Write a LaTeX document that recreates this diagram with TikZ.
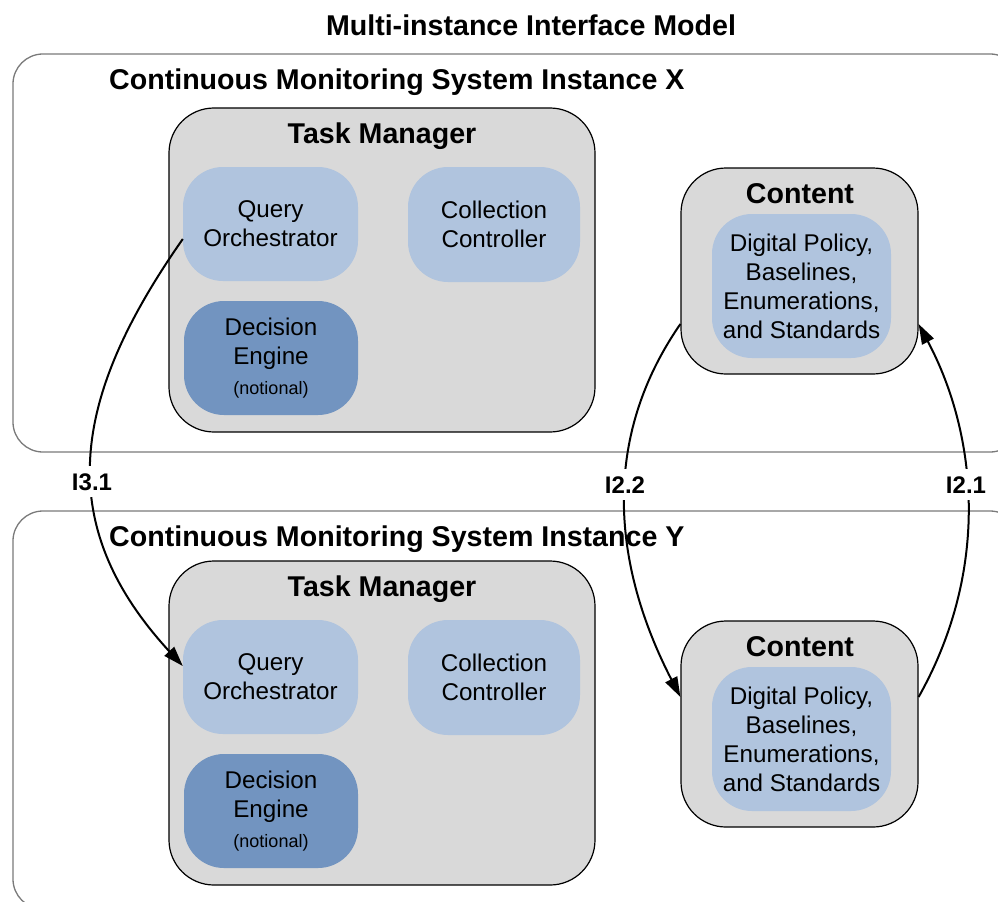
\documentclass[tikz,border=0pt]{standalone}
\usepackage{fontspec}
\setmainfont{Liberation Sans}
\usetikzlibrary{arrows.meta,calc}
\definecolor{tmgray}{HTML}{D9D9D9}
\definecolor{lightblu}{HTML}{B0C4DE}
\definecolor{darkblu}{HTML}{7294C0}
\definecolor{outergray}{HTML}{7A7A7A}
\newcommand\regfont{\fontsize{24.2bp}{29bp}\selectfont}
\newcommand\bigbold{\fontsize{28.6bp}{34bp}\selectfont\bfseries}
\newcommand\lblfont{\fontsize{24bp}{29bp}\selectfont\bfseries}
\newcommand\cmsinstance[1]{%
  \node[tmbox, minimum width=426bp, minimum height=324bp] (tm#1) at (382,270) {};
  \node[boldtxt, anchor=base] (tmt#1) at (382,143) {Task Manager};
  \node[lbbox, minimum width=175bp, minimum height=114bp] (qo#1) at (270.5,224) {Query\\Orchestrator};
  \node[lbbox, minimum width=172bp, minimum height=115bp] (cc#1) at (494,224.5) {Collection\\Controller};
  \node[dbbox, minimum width=174bp, minimum height=114bp] (de#1) at (271,358) {Decision\\Engine\\[1bp]{\fontsize{18bp}{22bp}\selectfont(notional)}};
  \node[ctbox, minimum width=237bp, minimum height=206bp] (c#1) at (799.5,271) {};
  \node[boldtxt, anchor=base] (ct#1) at (800,203) {Content};
  \node[lbbox, minimum width=179bp, minimum height=144bp] (ci#1) at (801.5,286) {Digital Policy,\\Baselines,\\Enumerations,\\and Standards};
}
\begin{document}
\begin{tikzpicture}[x=1bp,y=-1bp,
  outerbox/.style={draw=outergray, line width=1.3bp, rounded corners=30bp, inner sep=0},
  tmbox/.style={draw=black, fill=tmgray, line width=1.2bp, rounded corners=45bp, inner sep=0},
  ctbox/.style={draw=black, fill=tmgray, line width=1.2bp, rounded corners=45bp, inner sep=0},
  lbbox/.style={fill=lightblu, rounded corners=40bp, inner sep=0, align=center, font=\regfont},
  dbbox/.style={fill=darkblu, rounded corners=40bp, inner sep=0, align=center, font=\regfont},
  boldtxt/.style={font=\bigbold, inner sep=0},
  arr/.style={line width=2bp, -{Triangle[length=20bp,width=13bp]}},
  lbl/.style={fill=white, font=\lblfont, inner xsep=2bp, inner ysep=7bp}
]
\useasboundingbox (0,0) rectangle (998,902);
\clip (0,0) rectangle (998,902);
\node[outerbox, minimum width=1007bp, minimum height=398bp] (outX) at (516.5,253) {};
\node[outerbox, minimum width=1007bp, minimum height=398bp] (outY) at (516.5,710) {};
\node[boldtxt, anchor=base] (title) at (531,35) {Multi-instance Interface Model};
\node[boldtxt, anchor=base west] (cmsX) at (109,89) {Continuous Monitoring System Instance X};
\node[boldtxt, anchor=base west] (cmsY) at (109,546) {Continuous Monitoring System Instance Y};
\begin{scope}
\cmsinstance{X}
\end{scope}
\begin{scope}[yshift=-453bp]
\cmsinstance{Y}
\end{scope}
\draw[arr] ([yshift=-15bp]qoX.west) .. controls (70,400) and (53,525) .. ([yshift=11bp]qoY.west);
\draw[arr] ([yshift=-53bp]cX.west) .. controls (600,440) and (613,566) .. ([yshift=27bp]cY.west);
\draw[arr] ([yshift=27bp]cY.east) .. controls (990,570) and (978,436) .. ([yshift=-53bp]cX.east);
\node[lbl, anchor=base] (l31) at (92,490) {I3.1};
\node[lbl, anchor=base] (l22) at (625,493) {I2.2};
\node[lbl, anchor=base] (l21) at (966,493) {I2.1};
\end{tikzpicture}
\end{document}
